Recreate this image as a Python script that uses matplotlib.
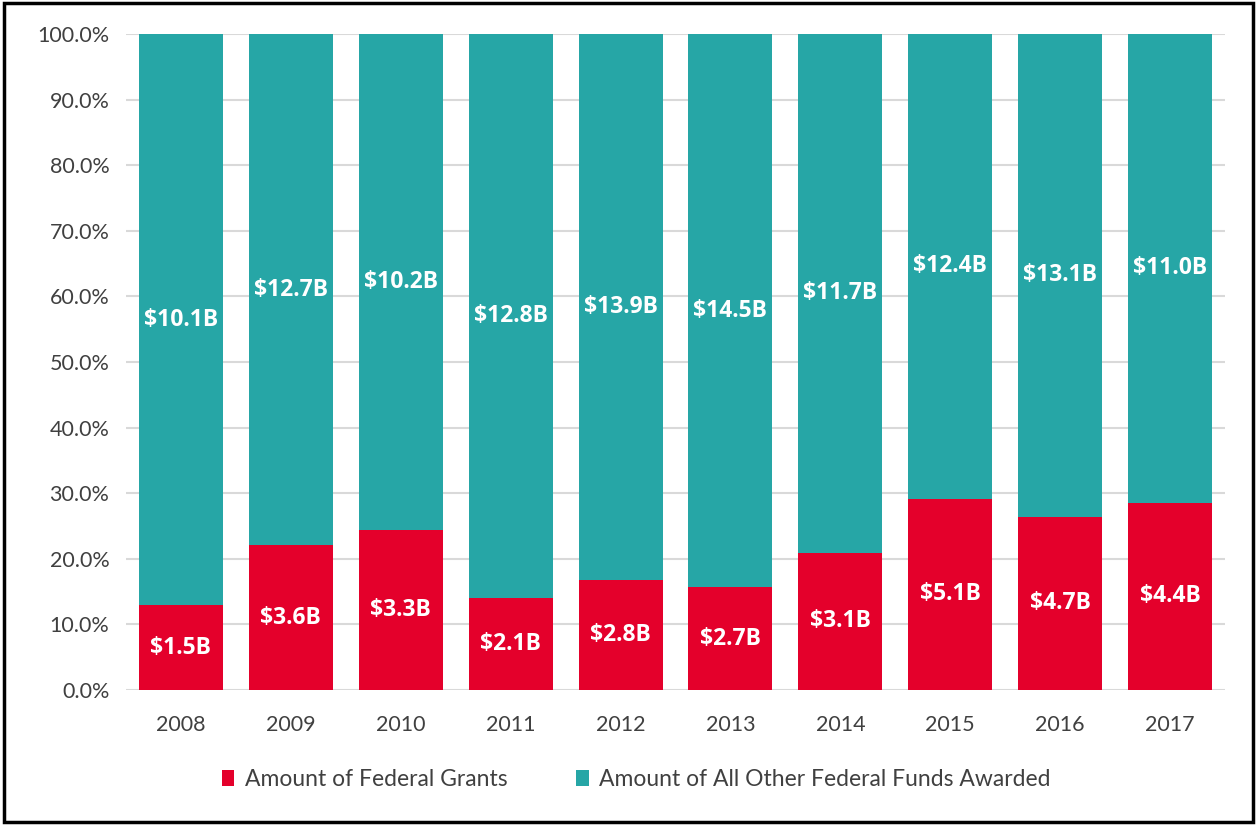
import matplotlib.pyplot as plt
from matplotlib.patches import Rectangle
from matplotlib.ticker import PercentFormatter
import numpy as np

# Federal funds awarded, in billions
years = ["2008", "2009", "2010", "2011", "2012", "2013", "2014", "2015", "2016", "2017"]
grants = [1.5, 3.6, 3.3, 2.1, 2.8, 2.7, 3.1, 5.1, 4.7, 4.4]
other_funds = [10.1, 12.7, 10.2, 12.8, 13.9, 14.5, 11.7, 12.4, 13.1, 11.0]
series_names = ["Amount of Federal Grants", "Amount of All Other Federal Funds Awarded"]

RED = "#E4002B"
TEAL = "#26A6A6"
TEXT = "#404040"

plt.rcParams['font.family'] = ['Lato', 'DejaVu Sans']

g = np.array(grants)
o = np.array(other_funds)
total = g + o
g_pct = g / total * 100
o_pct = o / total * 100

fig = plt.figure(figsize=(12.57, 8.25), dpi=100)
ax = fig.add_axes([0.1002, 0.1636, 0.8744, 0.7952])

x = np.arange(len(years))
width = 0.764
ax.bar(x, g_pct, width, color=RED, label=series_names[0], zorder=3)
ax.bar(x, o_pct, width, bottom=g_pct, color=TEAL, label=series_names[1], zorder=3)

# value labels centred in each segment
for i in range(len(years)):
    ax.text(x[i], g_pct[i] / 2, f"${grants[i]:.1f}B", ha="center", va="center",
            color="white", fontsize=16.5, fontweight="bold", family="Open Sans", zorder=4)
    ax.text(x[i], g_pct[i] + o_pct[i] / 2, f"${other_funds[i]:.1f}B", ha="center", va="center",
            color="white", fontsize=16.5, fontweight="bold", family="Open Sans", zorder=4)

ax.set_xlim(-0.5, len(years) - 0.5)
ax.set_ylim(0, 100)
ax.set_yticks(np.arange(0, 101, 10))
ax.yaxis.set_major_formatter(PercentFormatter(decimals=1))
ax.set_xticks(x)
ax.set_xticklabels(years)
ax.tick_params(axis="both", length=0, labelsize=15.5, colors=TEXT)
ax.tick_params(axis="x", pad=18)
ax.tick_params(axis="y", pad=12)
ax.yaxis.grid(True, color="#D9D9D9", linewidth=1.5, zorder=0)
for s in ax.spines.values():
    s.set_visible(False)

ax.legend(loc="center", bbox_to_anchor=(0.506, 0.055), bbox_transform=fig.transFigure,
          ncol=2, frameon=False, fontsize=16.5, handlelength=0.55, handleheight=0.7,
          handletextpad=0.45, columnspacing=3.0, labelcolor=TEXT)

# black frame around the whole picture
fig.patches.append(Rectangle((0.003, 0.004), 0.994, 0.992, transform=fig.transFigure,
                             fill=False, edgecolor="black", linewidth=2.5))

fig.savefig("out.png", dpi=100)
